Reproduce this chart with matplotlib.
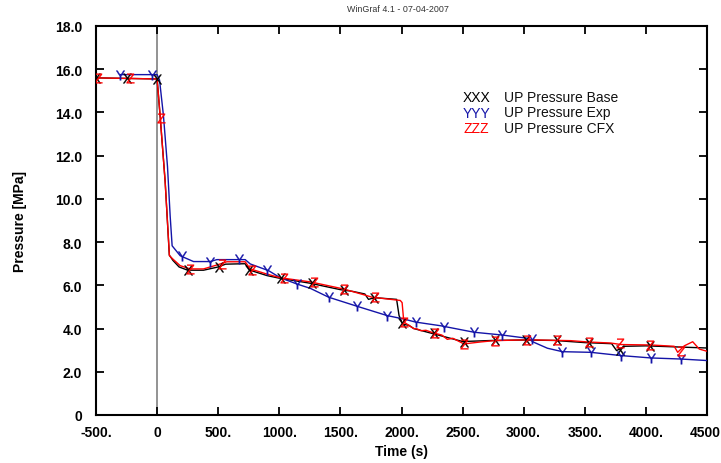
#!/usr/bin/env python3
"""
UP pressure transient: base run vs experiment vs CFX, WinGraf style.
"""

import numpy as np
import matplotlib
matplotlib.use("Agg")
import matplotlib.pyplot as plt

plt.rcParams['font.family'] = ['Liberation Sans', 'DejaVu Sans']
plt.rcParams['mathtext.fontset'] = 'custom'
plt.rcParams['mathtext.sf'] = 'Liberation Sans'

# --- curves (time in s, pressure in MPa) ---
base_t = [-500, 0, 25, 66, 100, 130, 180, 250, 380, 500, 560, 720, 760, 900,
          1000, 1250, 1500, 1600, 1700, 1730, 1760, 1800, 1960, 1980, 2010,
          2060, 2100, 2200, 2300, 2400, 2500, 2600, 2750, 3000, 3250, 3500,
          3720, 3760, 3800, 3830, 4000, 4250, 4500]
base_p = [15.6, 15.55, 13.8, 10.8, 7.4, 7.15, 6.85, 6.7, 6.7, 6.85, 6.98, 7.0,
          6.7, 6.45, 6.33, 6.1, 5.8, 5.72, 5.6, 5.35, 5.4, 5.42, 5.35, 4.6,
          4.2, 4.15, 4.0, 3.85, 3.7, 3.55, 3.4, 3.42, 3.45, 3.47, 3.45, 3.35,
          3.3, 2.98, 3.1, 3.18, 3.2, 3.15, 3.1]

exp_t = [-300, 0, 20, 52, 85, 107, 123, 189, 298, 434, 489, 721, 762, 912,
         1008, 1145, 1254, 1404, 1637, 1883, 2019, 2115, 2320, 2593, 2825,
         3030, 3085, 3194, 3317, 3549, 3795, 4041, 4287, 4500]
exp_p = [15.75, 15.75, 15.5, 13.85, 11.5, 9.2, 7.83, 7.37, 7.1, 7.1, 7.19,
         7.19, 6.99, 6.68, 6.35, 6.06, 5.86, 5.45, 5.03, 4.6, 4.44, 4.3, 4.13,
         3.83, 3.7, 3.55, 3.36, 3.09, 2.93, 2.9, 2.75, 2.64, 2.59, 2.52]

cfx_t = [-500, 0, 25, 66, 101, 134, 189, 270, 380, 489, 571, 721, 762, 899,
         1008, 1254, 1527, 1700, 1760, 1990, 2005, 2019, 2060, 2100, 2129,
         2160, 2200, 2265, 2330, 2375, 2420, 2511, 2648, 2757, 3030, 3385,
         3522, 3713, 3795, 4041, 4232, 4260, 4314, 4383, 4437, 4500]
cfx_p = [15.6, 15.55, 13.85, 10.77, 7.37, 7.19, 6.91, 6.76, 6.76, 6.94, 7.09,
         7.09, 6.76, 6.52, 6.35, 6.16, 5.83, 5.55, 5.45, 5.3, 5.2, 4.3, 4.15,
         4.0, 3.98, 3.9, 3.92, 3.79, 3.7, 3.5, 3.55, 3.29, 3.38, 3.44, 3.48,
         3.44, 3.38, 3.33, 3.26, 3.24, 3.18, 2.9, 3.2, 3.39, 3.05, 2.95]

# --- letter symbols along the curves ---
base_mark_t = [-500, -250, 0, 249, 503, 754, 1016, 1268, 1527, 1773, 2006,
               2265, 2511, 2762, 3016, 3270, 3533, 3787, 4033]
base_mark_p = [15.6, 15.6, 15.55, 6.7, 6.85, 6.72, 6.33, 6.1, 5.8, 5.4, 4.25,
               3.78, 3.38, 3.45, 3.47, 3.45, 3.35, 3.0, 3.2]

exp_mark_t = [-300, -40, 202, 434, 667, 899, 1145, 1404, 1637, 1883, 2115,
              2347, 2593, 2825, 3071, 3317, 3549, 3795, 4041, 4287]
exp_mark_p = [15.75, 15.75, 7.35, 7.1, 7.2, 6.7, 6.06, 5.45, 5.03, 4.6, 4.32,
              4.06, 3.83, 3.7, 3.5, 2.93, 2.9, 2.75, 2.64, 2.59]

cfx_mark_t = [-480, -220, 35, 270, 530, 776, 1035, 1281, 1527, 1787, 2019,
              2272, 2511, 2766, 3025, 3270, 3533, 3787, 4033, 4287]
cfx_mark_p = [15.58, 15.58, 13.75, 6.76, 7.0, 6.7, 6.35, 6.14, 5.83, 5.45,
              4.3, 3.79, 3.29, 3.44, 3.48, 3.45, 3.38, 3.32, 3.24, 2.98]

x_ticks = [-500, 0, 500, 1000, 1500, 2000, 2500, 3000, 3500, 4000, 4500]
x_labels = ['-500.', '0', '500.', '1000.', '1500.', '2000.', '2500.', '3000.',
            '3500.', '4000.', '4500.']
y_ticks = [0, 2, 4, 6, 8, 10, 12, 14, 16, 18]
y_labels = ['0', '2.0', '4.0', '6.0', '8.0', '10.0', '12.0', '14.0', '16.0',
            '18.0']

series = [
    ('UP Pressure Base', 'XXX', 'black', base_t, base_p, base_mark_t, base_mark_p, 'X'),
    ('UP Pressure Exp', 'YYY', '#1414a8', exp_t, exp_p, exp_mark_t, exp_mark_p, 'Y'),
    ('UP Pressure CFX', 'ZZZ', '#ff0000', cfx_t, cfx_p, cfx_mark_t, cfx_mark_p, 'Z'),
]

fig = plt.figure(figsize=(7.21, 4.64), dpi=100)
ax = fig.add_axes([96 / 721, 1 - 416 / 464, 611 / 721, 389 / 464])

ax.axvline(0, color='#808080', lw=1.2, zorder=1)

for label, sym, color, t, p, mt, mp, letter in series:
    ax.plot(t, p, color=color, lw=1.0, zorder=3)
    ax.plot(mt, mp, ls='none', marker=r'$\mathsf{%s}$' % letter, ms=7,
            color=color, mew=0.2, zorder=4)

ax.set_xlim(-500, 4500)
ax.set_ylim(0, 18)
ax.set_xticks(x_ticks)
ax.set_xticklabels(x_labels)
ax.set_yticks(y_ticks)
ax.set_yticklabels(y_labels)
for lab in ax.get_xticklabels() + ax.get_yticklabels():
    lab.set_fontweight('bold')
    lab.set_fontsize(10)
ax.tick_params(axis='both', direction='in', length=6, width=1.3,
               top=True, right=True, colors='black')
ax.tick_params(axis='x', pad=7)
ax.tick_params(axis='y', pad=10)
for sp in ax.spines.values():
    sp.set_linewidth(1.5)

ax.set_xlabel('Time (s)', fontsize=10, fontweight='bold', labelpad=4)
ax.set_ylabel('Pressure [MPa]', fontsize=10, fontweight='bold', labelpad=20)

fig.text(398 / 721, 1 - 9 / 464, 'WinGraf 4.1 - 07-04-2007', fontsize=6.4,
         color='#333333', ha='center', va='center')

# hand-made legend, WinGraf style
for i, (label, sym, color, *_rest) in enumerate(series):
    yy = 1 - (98 + 15.5 * i) / 464
    fig.text(463 / 721, yy, sym, color=color, fontsize=10, va='center')
    fig.text(504 / 721, yy, label, color='#111111', fontsize=10, va='center')

fig.savefig('out.png', dpi=100)
print("Saved: out.png")
